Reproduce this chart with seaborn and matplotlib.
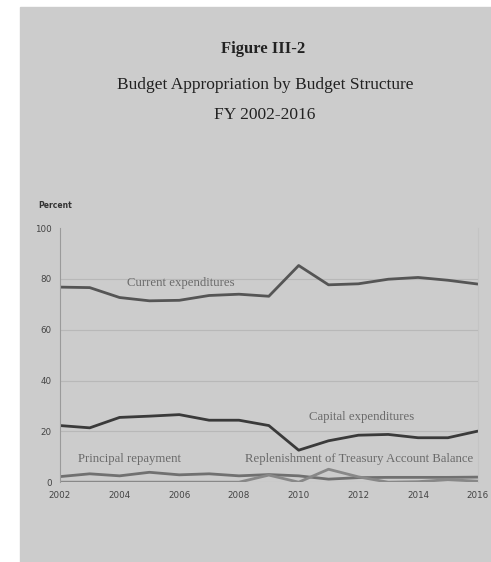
import numpy as np
import pandas as pd
import seaborn as sns
import matplotlib.pyplot as plt
from matplotlib.patches import Rectangle

years = list(range(2002, 2017))
current = [76.8, 76.6, 72.7, 71.4, 71.6, 73.5, 74.0, 73.2, 85.3, 77.7, 78.1, 79.9, 80.6, 79.5, 78.0]
capital = [22.3, 21.4, 25.5, 26.0, 26.6, 24.4, 24.4, 22.3, 12.6, 16.3, 18.5, 18.8, 17.5, 17.5, 20.1]
principal = [2.2, 3.3, 2.5, 3.9, 2.9, 3.3, 2.5, 3.0, 2.5, 1.2, 1.8, 1.9, 1.9, 1.9, 2.0]
replenish = [0.0, 0.0, 0.0, 0.0, 0.0, 0.0, 0.0, 2.8, 0.0, 5.1, 2.1, 0.0, 0.2, 1.0, 0.4]

series = ["Current expenditures", "Capital expenditures", "Principal repayment",
          "Replenishment of Treasury Account Balance"]
df = pd.DataFrame({"Year": years * 4,
                   "Percent": current + capital + principal + replenish,
                   "Series": np.repeat(series, len(years))})

sns.set_style("white")
plt.rcParams["font.family"] = ["DejaVu Sans"]

fig = plt.figure(figsize=(4.91, 5.62), dpi=100)
fig.patches.append(Rectangle((20 / 491, 0), 1 - 20 / 491, 1 - 7 / 562,
                             transform=fig.transFigure, color="#cccccc", zorder=-5))
ax = fig.add_axes([0.122, 0.142, 0.851, 0.452])
ax.set_facecolor("none")
ax.set_zorder(2)

palette = {series[0]: "#555555", series[1]: "#3a3a3a", series[2]: "#707070", series[3]: "#888888"}
sns.lineplot(data=df, x="Year", y="Percent", hue="Series", palette=palette,
             linewidth=2, legend=False, ax=ax)

ax.set_xlim(2002, 2016)
ax.set_ylim(0, 100)
ax.set_xticks(range(2002, 2017, 2))
ax.set_yticks(range(0, 101, 20))
ax.set_xlabel("")
ax.set_ylabel("")
for y in range(0, 81, 20):
    ax.axhline(y, color="#b8b8b8", linewidth=0.8, zorder=0)
for s in ["top", "bottom"]:
    ax.spines[s].set_visible(False)
ax.spines["left"].set_color("#9a9a9a")
ax.spines["left"].set_linewidth(0.8)
ax.spines["right"].set_color("#c4c4c4")
ax.spines["right"].set_linewidth(0.8)
ax.tick_params(axis="both", length=0, labelsize=6.3, colors="#444444", pad=6)

serif = ["Liberation Serif", "DejaVu Serif"]
lab = dict(family=serif, fontsize=9.2, color="#6a6a6a", va="center")
ax.text(2004.25, 78.3, "Current expenditures", **lab)
ax.text(2010.35, 25.5, "Capital expenditures", **lab)
ax.text(2002.6, 9.2, "Principal repayment", **lab)
ax.text(2008.2, 9.2, "Replenishment of Treasury Account Balance", **lab)

fig.text(0.077, 0.635, "Percent", fontsize=5.5, fontweight="bold", color="#333333",
         va="center")
fig.text(0.535, 0.913, "Figure III-2", family=serif, fontsize=12, fontweight="bold",
         color="#222222", ha="center", va="center")
fig.text(0.54, 0.849, "Budget Appropriation by Budget Structure", family=serif,
         fontsize=12.5, color="#222222", ha="center", va="center")
fig.text(0.54, 0.795, "FY 2002-2016", family=serif, fontsize=12.5, color="#222222",
         ha="center", va="center")

fig.savefig("out.png", dpi=100)
